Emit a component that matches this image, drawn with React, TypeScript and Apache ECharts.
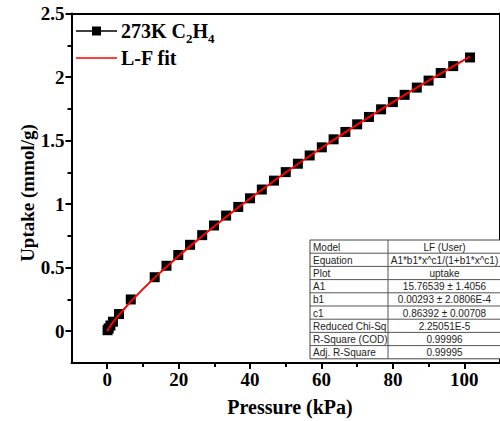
import React, { useEffect, useRef } from 'react';
import * as echarts from 'echarts';

// ---- data ----
const pressure = [0.1, 0.4, 0.9, 1.6, 3.3, 6.6, 13.3, 16.6, 19.9, 23.2, 26.6, 29.9, 33.3, 36.7, 40.0, 43.3, 46.7, 50.0, 53.4, 56.7, 60.1, 63.4, 66.7, 70.0, 73.3, 76.7, 80.0, 83.3, 86.7, 90.0, 93.4, 96.9, 101.6];
const uptake = [0.008, 0.022, 0.045, 0.075, 0.135, 0.25, 0.425, 0.515, 0.6, 0.68, 0.756, 0.832, 0.91, 0.978, 1.046, 1.115, 1.185, 1.252, 1.318, 1.383, 1.447, 1.51, 1.568, 1.628, 1.686, 1.746, 1.803, 1.86, 1.917, 1.972, 2.032, 2.086, 2.154];

const fitPressure = [0, 0.25, 0.5, 1, 1.5, 2, 3, 4, 5, 6.5, 8, 10, 12.5, 15, 20, 25, 30, 40, 50, 60, 70, 80, 90, 101.6];
const fitUptake = [0, 0.014, 0.025, 0.046, 0.065, 0.084, 0.118, 0.151, 0.183, 0.229, 0.274, 0.331, 0.4, 0.465, 0.592, 0.711, 0.826, 1.044, 1.249, 1.442, 1.626, 1.803, 1.972, 2.16];

const xTicks = [0, 20, 40, 60, 80, 100];
const xMinorTicks = [10, 30, 50, 70, 90];
const yTicks = [0, 0.5, 1, 1.5, 2, 2.5];
const yMinorTicks = [0.25, 0.75, 1.25, 1.75, 2.25];

const tableLabels = ['Model', 'Equation', 'Plot', 'A1', 'b1', 'c1', 'Reduced Chi-Sq', 'R-Square (COD)', 'Adj. R-Square'];
const tableValues = ['LF (User)', 'A1*b1*x^c1/(1+b1*x^c1)', 'uptake', '15.76539 ± 1.4056', '0.00293 ± 2.0806E-4', '0.86392 ± 0.00708', '2.25051E-5', '0.99996', '0.99995'];

const seriesName = '273K C2H4';
const fitName = 'L-F fit';

const serif = '"Liberation Serif", "Times New Roman", serif';
const sans = '"Liberation Sans", Arial, sans-serif';

export default function App() {
  const ref = useRef<HTMLDivElement>(null);

  useEffect(() => {
    if (!ref.current) return;
    const chart = echarts.init(ref.current, null, { renderer: 'svg' });

    const labelStyle = { fontSize: 19, fontWeight: 'bold' as const, fontFamily: serif, color: '#000' };
    const axisLineStyle = { color: '#000', width: 2 };

    // table graphics
    const tLeft = 310, tRight = 501, tTop = 240, rowH = 13.2, tDiv = 388;
    const tableEls: any[] = [];
    tableEls.push({ type: 'rect', shape: { x: tLeft, y: tTop, width: tRight - tLeft, height: rowH * tableLabels.length }, style: { fill: '#fff', stroke: '#444', lineWidth: 1 }, z: 10 });
    for (let i = 1; i < tableLabels.length; i++) {
      tableEls.push({ type: 'line', shape: { x1: tLeft, y1: tTop + i * rowH, x2: tRight, y2: tTop + i * rowH }, style: { stroke: '#555', lineWidth: 1 }, z: 11 });
    }
    tableEls.push({ type: 'line', shape: { x1: tDiv, y1: tTop, x2: tDiv, y2: tTop + rowH * tableLabels.length }, style: { stroke: '#555', lineWidth: 1 }, z: 11 });
    tableLabels.forEach((t, i) => {
      tableEls.push({ type: 'text', x: tLeft + 3, y: tTop + i * rowH + rowH / 2 + 0.5, style: { text: t, font: `10px ${sans}`, fill: '#222', textAlign: 'left', textVerticalAlign: 'middle' }, z: 12 });
    });
    tableValues.forEach((t, i) => {
      tableEls.push({ type: 'text', x: (tDiv + tRight) / 2, y: tTop + i * rowH + rowH / 2 + 0.5, style: { text: t, font: `10px ${sans}`, fill: '#222', textAlign: 'center', textVerticalAlign: 'middle' }, z: 12 });
    });

    const big = `bold 20px ${serif}`;
    const small = `bold 13px ${serif}`;
    const legendEls: any[] = [
      { type: 'line', shape: { x1: 76, y1: 31, x2: 117, y2: 31 }, style: { stroke: '#000', lineWidth: 1.5 }, z: 20 },
      { type: 'rect', shape: { x: 92, y: 26.5, width: 9, height: 9 }, style: { fill: '#000' }, z: 21 },
      { type: 'text', x: 121, y: 31, z: 20, style: { text: '273K C', font: big, fill: '#000', textVerticalAlign: 'middle' } },
      { type: 'text', x: 186, y: 38, z: 20, style: { text: '2', font: small, fill: '#000', textVerticalAlign: 'middle' } },
      { type: 'text', x: 192.5, y: 31, z: 20, style: { text: 'H', font: big, fill: '#000', textVerticalAlign: 'middle' } },
      { type: 'text', x: 208, y: 38, z: 20, style: { text: '4', font: small, fill: '#000', textVerticalAlign: 'middle' } },
      { type: 'line', shape: { x1: 76, y1: 58, x2: 117, y2: 58 }, style: { stroke: '#ff0000', lineWidth: 1.5 }, z: 20 },
      { type: 'text', x: 121, y: 58, style: { text: fitName, font: big, fill: '#000', textVerticalAlign: 'middle' }, z: 20 },
    ];

    const titleEls: any[] = [
      { type: 'text', x: 290, y: 407, style: { text: 'Pressure (kPa)', font: `bold 20px ${serif}`, fill: '#000', textAlign: 'center', textVerticalAlign: 'middle' } },
      { type: 'text', x: 27, y: 193, rotation: Math.PI / 2, style: { text: 'Uptake (mmol/g)', font: `bold 19px ${serif}`, fill: '#000', textAlign: 'center', textVerticalAlign: 'middle' } },
    ];

    chart.setOption({
      animation: false,
      backgroundColor: '#fff',
      grid: { left: 71.5, top: 13.5, width: 434.5, height: 349.5, containLabel: false },
      xAxis: [
        {
          type: 'value', min: -10, max: 110, position: 'bottom',
          axisLine: { show: true, onZero: false, lineStyle: axisLineStyle },
          axisTick: { show: true, customValues: xTicks, length: 6, lineStyle: axisLineStyle },
          axisLabel: { ...labelStyle, customValues: xTicks, margin: 7 },
          splitLine: { show: false },
        },
        {
          type: 'value', min: -10, max: 110, position: 'bottom',
          axisLine: { show: false, onZero: false },
          axisTick: { show: true, customValues: xMinorTicks, length: 4, lineStyle: axisLineStyle },
          axisLabel: { show: false },
          splitLine: { show: false },
        },
        {
          type: 'value', min: -10, max: 110, position: 'top',
          axisLine: { show: true, onZero: false, lineStyle: axisLineStyle },
          axisTick: { show: false }, axisLabel: { show: false }, splitLine: { show: false },
        },
      ],
      yAxis: [
        {
          type: 'value', min: -0.25, max: 2.5, position: 'left',
          axisLine: { show: true, onZero: false, lineStyle: axisLineStyle },
          axisTick: { show: true, customValues: yTicks, length: 6, lineStyle: axisLineStyle },
          axisLabel: { ...labelStyle, customValues: yTicks, margin: 7 },
          splitLine: { show: false },
        },
        {
          type: 'value', min: -0.25, max: 2.5, position: 'left',
          axisLine: { show: false, onZero: false },
          axisTick: { show: true, customValues: yMinorTicks, length: 4, lineStyle: axisLineStyle },
          axisLabel: { show: false },
          splitLine: { show: false },
        },
        {
          type: 'value', min: -0.25, max: 2.5, position: 'right',
          axisLine: { show: true, onZero: false, lineStyle: axisLineStyle },
          axisTick: { show: false }, axisLabel: { show: false }, splitLine: { show: false },
        },
      ],
      series: [
        {
          name: seriesName, type: 'scatter', xAxisIndex: 0, yAxisIndex: 0,
          symbol: 'rect', symbolSize: 10,
          itemStyle: { color: '#000', opacity: 1 },
          data: pressure.map((p, i) => [p, uptake[i]]),
          z: 2,
        },
        {
          name: fitName, type: 'line', xAxisIndex: 0, yAxisIndex: 0,
          showSymbol: false, smooth: 0.3,
          lineStyle: { color: '#ff0000', width: 2 },
          data: fitPressure.map((p, i) => [p, fitUptake[i]]),
          z: 3,
        },
      ],
      graphic: [...tableEls, ...legendEls, ...titleEls],
    });

    return () => chart.dispose();
  }, []);

  return <div ref={ref} style={{ position: 'absolute', left: 0, top: 0, width: 500, height: 421, background: '#fff' }} />;
}
